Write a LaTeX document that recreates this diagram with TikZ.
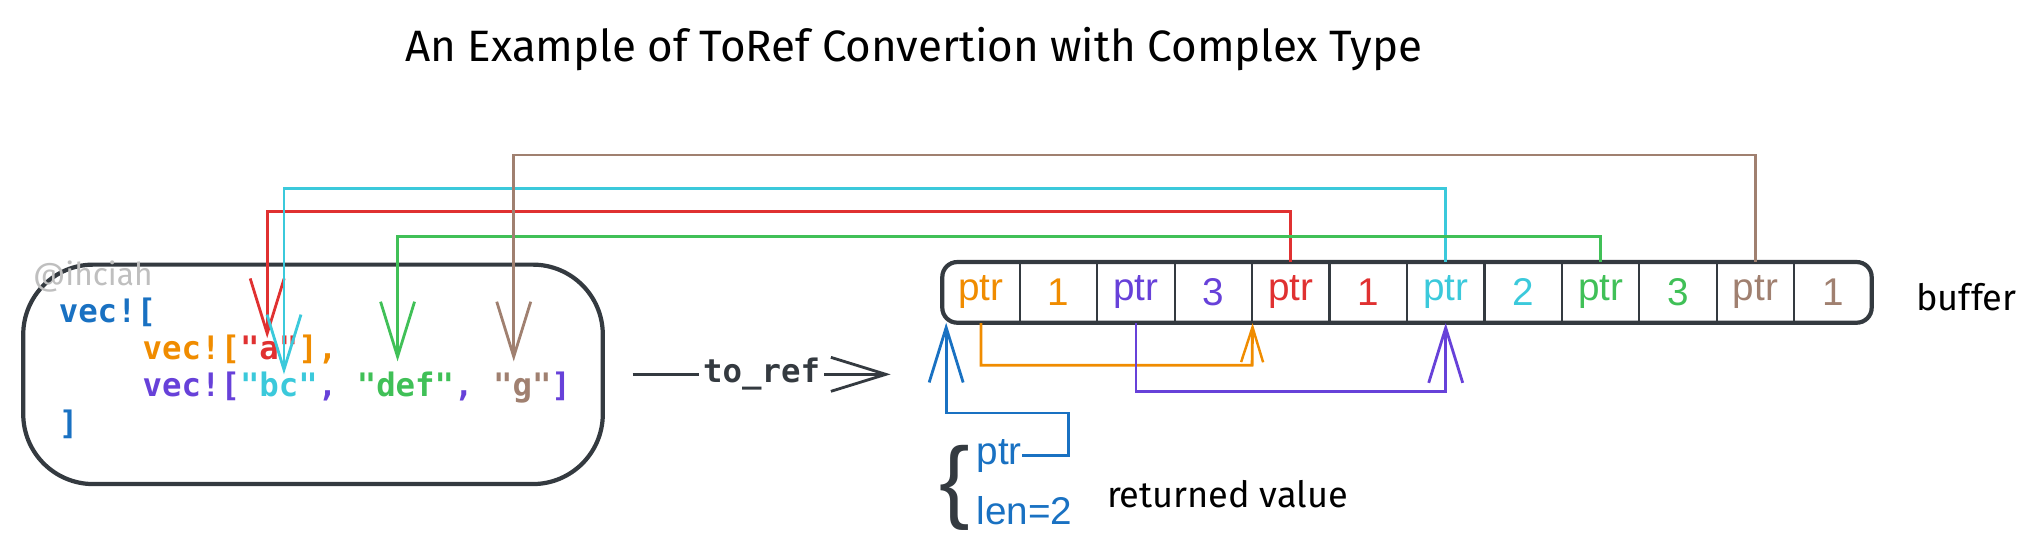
\documentclass[tikz,border=0pt]{standalone}
\usepackage{fontspec}
\setmainfont{Liberation Sans}
\newfontfamily\codefont{DejaVu Sans Mono}
\newfontfamily\handfont{Fira Sans}
\usetikzlibrary{arrows.meta,positioning}

\definecolor{cblue}{HTML}{1971C2}
\definecolor{corange}{HTML}{F08C00}
\definecolor{cred}{HTML}{E03131}
\definecolor{ccyan}{HTML}{3BC9DB}
\definecolor{cpurple}{HTML}{6741D9}
\definecolor{cgreen}{HTML}{40C057}
\definecolor{cbrown}{HTML}{A08070}
\definecolor{cdark}{HTML}{343A40}

\tikzset{
  barb/.style={-{Straight Barb[length=5.5mm,width=3.4mm,line width=0.8pt]}},
  small barb/.style={-{Straight Barb[length=3.5mm,width=2.2mm,line width=0.7pt]}},
  link/.style={line width=0.8pt,barb},
  cell/.style={font=\fontsize{11}{13}\selectfont,inner sep=0pt},
  hand/.style={font=\handfont\fontsize{10.3}{12}\selectfont,text=black},
}

\begin{document}
\begin{tikzpicture}[x=0.01291cm,y=-0.01291cm]
\useasboundingbox (0,0) rectangle (1568,432);

% title
\node[hand,font=\handfont\fontsize{12.5}{14}\selectfont] (title) at (708,38) {An Example of ToRef Convertion with Complex Type};

% source value
\draw[cdark,line width=1.2pt,rounded corners=0.7cm] (18,205) rectangle (467,375);
\node[anchor=west,text=black!25,font=\handfont\fontsize{9}{10}\selectfont] (sign) at (16,214) {@ihciah};
\begin{scope}[every node/.style={anchor=west,inner sep=0pt,font=\codefont\bfseries\fontsize{9.2}{11}\selectfont}]
\node (l1) at (45,242) {\textcolor{cblue}{vec![}};
\node (l2) at (110,271) {\textcolor{corange}{vec![}\textcolor{cred}{"a"}\textcolor{corange}{],}};
\node (l3) at (110,300) {\textcolor{cpurple}{vec![}\textcolor{ccyan}{"bc"}\textcolor{cpurple}{, }\textcolor{cgreen}{"def"}\textcolor{cpurple}{, }\textcolor{cbrown}{"g"}\textcolor{cpurple}{]}};
\node (l4) at (45,329) {\textcolor{cblue}{]}};
\end{scope}
\coordinate (ta) at (207,262);
\coordinate (tbc) at (220,290);
\coordinate (tdef) at (308,280);
\coordinate (tg) at (398,280);

% to_ref
\coordinate (rs) at (490,290);
\coordinate (re) at (690,290);
\node[font=\codefont\bfseries\fontsize{9.2}{11}\selectfont,text=cdark,fill=white,inner sep=1pt] (toref) at (590,290) {to\_ref};
\draw[cdark,line width=0.9pt] (rs) -- (toref.west);
\draw[cdark,line width=0.9pt,barb] (toref.east) -- (re);

% buffer
\draw[cdark,line width=1.2pt,rounded corners=0.15cm] (730,203) rectangle (1450,250);
\foreach \x in {1,...,11}
  \draw[cdark,line width=0.6pt] (730+60*\x,203) -- (730+60*\x,250);
\foreach \t/\c [count=\i] in {ptr/corange,1/corange,ptr/cpurple,3/cpurple,ptr/cred,1/cred,ptr/ccyan,2/ccyan,ptr/cgreen,3/cgreen,ptr/cbrown,1/cbrown}
  \node[cell,text=\c,minimum width=0.77cm,minimum height=0.6cm] (c\i) at (700+60*\i,226.5) {\t};
\node[hand,anchor=west] (buf) at (1475,230) {buffer};
\coordinate (bufsw) at (733,250);

% pointers to strings
\draw[link,cred] (c5.north) |- (207,164) -- (ta);
\draw[link,ccyan] (c7.north) |- (220,146) -- (tbc);
\draw[link,cgreen] (c9.north) |- (308,183) -- (tdef);
\draw[link,cbrown] (c11.north) |- (398,120) -- (tg);

% pointers to inner vecs
\draw[link,small barb,corange] (c1.south) |- (970,283) -- (c4.south east);
\draw[link,cpurple] (c3.south) |- (1120,303) -- (c7.south);

% returned value
\node[cell,text=cblue,anchor=west] (rptr) at (756,353) {ptr};
\node[cell,text=cblue,anchor=west] (rlen) at (756,396) {len=2};
\node[text=cdark,font=\fontsize{26}{26}\selectfont,inner sep=0pt] (brace) at (740,378) {\{};
\node[hand,anchor=west] (ret) at (848,383) {returned value};
\draw[link,cblue] (rptr.east) -- ++(36,0) |- (733,320) -- (bufsw);
\end{tikzpicture}
\end{document}
